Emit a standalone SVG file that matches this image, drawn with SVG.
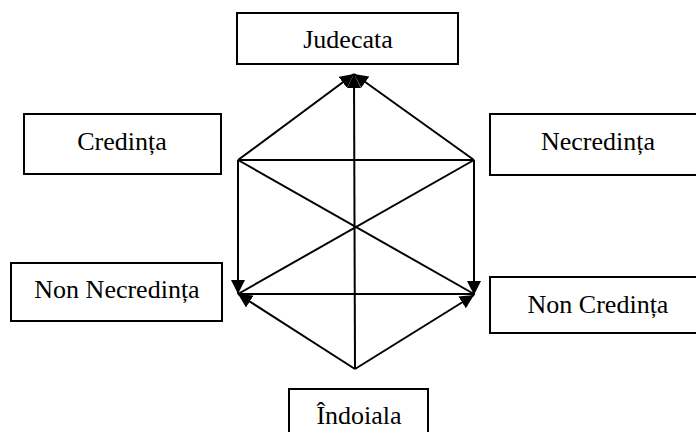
<svg xmlns="http://www.w3.org/2000/svg" width="696" height="432" viewBox="0 0 696 432">
<style>
.box{fill:#fff;stroke:#000;stroke-width:2}
.lbl{font-family:"Liberation Serif","Times New Roman",serif;font-size:26px;fill:#000;text-anchor:middle}
.ln{stroke:#000;stroke-width:2;fill:none}
</style>
<defs>
<marker id="ah" markerUnits="userSpaceOnUse" markerWidth="14" markerHeight="14" refX="14" refY="7" orient="auto">
<path d="M0,0 L14,7 L0,14 z" fill="#000"/>
</marker>
</defs>
<rect width="696" height="432" fill="#fff"/>
<g id="connectors">
<line class="ln" x1="238" y1="160" x2="474" y2="160"/>
<line class="ln" x1="238" y1="294" x2="474" y2="294"/>
<line class="ln" x1="238" y1="160" x2="474" y2="294"/>
<line class="ln" x1="474" y1="160" x2="238" y2="294"/>
<line class="ln" x1="238" y1="160" x2="354" y2="74" marker-end="url(#ah)"/>
<line class="ln" x1="474" y1="160" x2="354" y2="74" marker-end="url(#ah)"/>
<line class="ln" x1="355" y1="369" x2="354" y2="74" marker-end="url(#ah)"/>
<line class="ln" x1="238" y1="160" x2="238" y2="294" marker-end="url(#ah)"/>
<line class="ln" x1="474" y1="160" x2="474" y2="295" marker-end="url(#ah)"/>
<line class="ln" x1="355" y1="369" x2="238" y2="294" marker-end="url(#ah)"/>
<line class="ln" x1="355" y1="369" x2="474" y2="295" marker-end="url(#ah)"/>
</g>
<g id="judecata"><rect class="box" x="237" y="13" width="221" height="51"/><text class="lbl" x="348" y="48">Judecata</text></g>
<g id="credinta"><rect class="box" x="24" y="114" width="197" height="60"/><text class="lbl" x="122" y="150">Credința</text></g>
<g id="necredinta"><rect class="box" x="490" y="114" width="216" height="61"/><text class="lbl" x="598" y="150">Necredința</text></g>
<g id="non-necredinta"><rect class="box" x="11" y="263" width="211" height="58"/><text class="lbl" x="117" y="298">Non Necredința</text></g>
<g id="non-credinta"><rect class="box" x="490" y="277" width="216" height="56"/><text class="lbl" x="598" y="313">Non Credința</text></g>
<g id="indoiala"><rect class="box" x="289" y="389" width="139" height="52"/><text class="lbl" x="359" y="424">Îndoiala</text></g>
</svg>
